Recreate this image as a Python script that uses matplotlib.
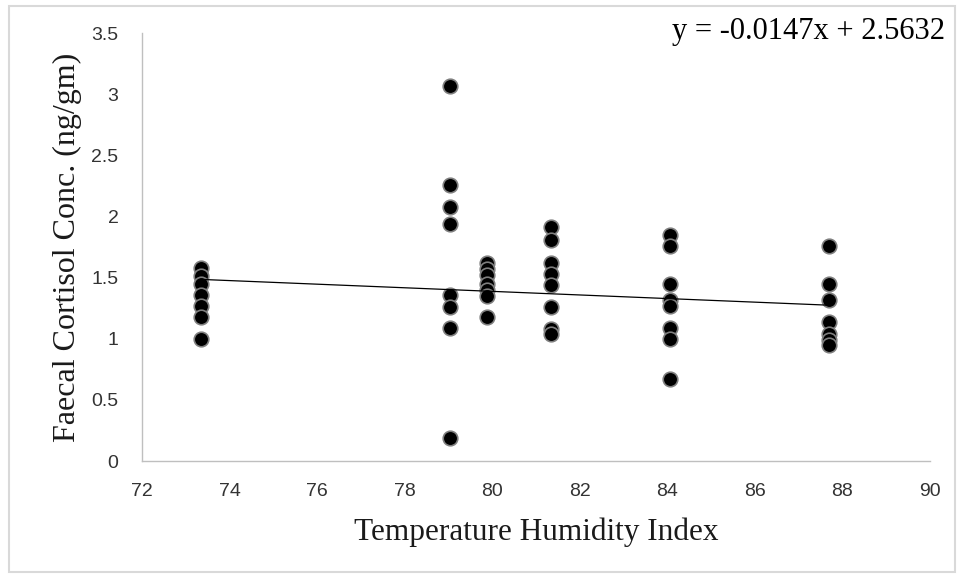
import matplotlib
matplotlib.use("Agg")
import matplotlib.pyplot as plt
from matplotlib.patches import Rectangle

# Data
thi = [73.35]*7 + [79.03]*8 + [79.88]*7 + [81.35]*8 + [84.05]*8 + [87.7]*7
cortisol = [1.58, 1.51, 1.45, 1.36, 1.27, 1.18, 1.00,
            3.07, 2.26, 2.08, 1.94, 1.36, 1.26, 1.09, 0.19,
            1.62, 1.57, 1.52, 1.45, 1.40, 1.35, 1.18,
            1.91, 1.81, 1.62, 1.53, 1.44, 1.26, 1.08, 1.04,
            1.85, 1.76, 1.45, 1.32, 1.27, 1.09, 1.00, 0.67,
            1.76, 1.45, 1.32, 1.14, 1.04, 0.99, 0.95]
slope = -0.0147
intercept = 2.5632
x_ticks = [72, 74, 76, 78, 80, 82, 84, 86, 88, 90]
y_ticks = [0, 0.5, 1, 1.5, 2, 2.5, 3, 3.5]
y_tick_labels = ["0", "0.5", "1", "1.5", "2", "2.5", "3", "3.5"]

fig = plt.figure(figsize=(9.6, 5.77), dpi=100)
fig.patches.append(Rectangle((9/960, 1 - 572/577), 946/960, 566/577,
                             transform=fig.transFigure, fill=False,
                             edgecolor="#d9d9d9", linewidth=1.5))

ax = fig.add_axes([142/960, 1 - 461/577, (930 - 142)/960, (461 - 33)/577])
ax.set_xlim(72, 90)
ax.set_ylim(0, 3.5)

ax.scatter(thi, cortisol, s=110, facecolor="black", edgecolor="#7f7f7f",
           linewidth=1.2, zorder=3)

xs = [min(thi), max(thi)]
ax.plot(xs, [slope * v + intercept for v in xs], color="black", linewidth=0.9, zorder=4)

for s in ["top", "right"]:
    ax.spines[s].set_visible(False)
for s in ["left", "bottom"]:
    ax.spines[s].set_color("#bfbfbf")
    ax.spines[s].set_linewidth(1.0)

ax.set_xticks(x_ticks)
ax.set_xticklabels([str(t) for t in x_ticks])
ax.set_yticks(y_ticks)
ax.set_yticklabels(y_tick_labels)
ax.tick_params(axis="both", length=0, labelsize=14, labelcolor="#333333")
ax.tick_params(axis="x", pad=16)
ax.tick_params(axis="y", pad=17)
for lab in ax.get_xticklabels() + ax.get_yticklabels():
    lab.set_family("Liberation Sans")

ax.set_xlabel("Temperature Humidity Index", family="Liberation Serif", fontsize=22.5,
              color="#1a1a1a", va="center")
ax.xaxis.set_label_coords(0.5, (461 - 532) / 428)
ax.set_ylabel("Faecal Cortisol Conc. (ng/gm)", family="Liberation Serif", fontsize=23,
              color="#1a1a1a", va="center")
ax.yaxis.set_label_coords((67 - 142) / 788, 0.5)

fig.text(945/960, 1 - 32/577, "y = -0.0147x + 2.5632", family="Liberation Serif",
         fontsize=22, ha="right", va="center", color="black")

fig.savefig("out.png", dpi=100)
